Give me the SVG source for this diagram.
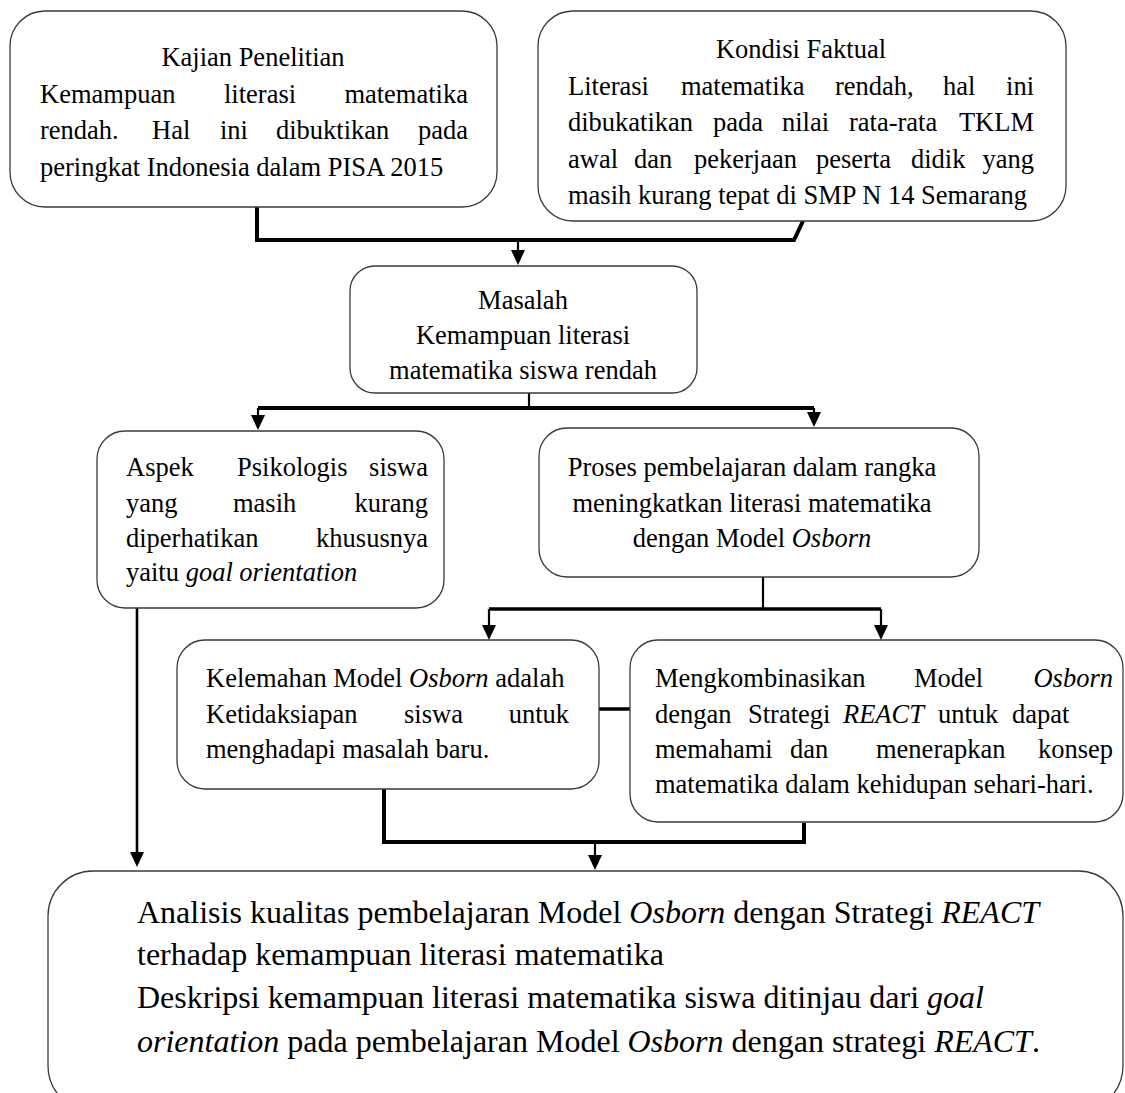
<svg xmlns="http://www.w3.org/2000/svg" width="1125" height="1093" viewBox="0 0 1125 1093">
<style>
.box{fill:#fff;stroke:#3a3a3a;stroke-width:1.3}
text{font-family:"Liberation Serif","Times New Roman",serif;font-size:26.5px;fill:#000}
.big{font-size:32px}
.c{text-anchor:middle}
.e{text-anchor:end}
.i{font-style:italic}
.thick{stroke:#000;stroke-width:4;fill:none}
.thin{stroke:#000;stroke-width:2.2;fill:none}
.ah{fill:#000}
</style>
<defs>
<path id="ah" d="M-7,-15 L7,-15 L0,0 Z"/>
</defs>
<rect width="1125" height="1093" fill="#fff"/>

<g id="connectors">
<path class="thick" d="M257,207 V240 H794 L803,221"/>
<path class="thin" d="M518,240 V252"/>
<use href="#ah" x="518" y="265" class="ah"/>
<path class="thin" d="M529,393 V408"/>
<path class="thick" d="M258,408 H814"/>
<path class="thin" d="M258,408 V417"/>
<path class="thin" d="M814,408 V414"/>
<use href="#ah" x="258" y="430" class="ah"/>
<use href="#ah" x="814" y="427" class="ah"/>
<path class="thin" d="M763,577 V609"/>
<path class="thick" style="stroke-width:3.5" d="M489,609 H881"/>
<path class="thin" d="M489,609 V627"/>
<path class="thin" d="M881,609 V627"/>
<use href="#ah" x="489" y="640" class="ah"/>
<use href="#ah" x="881" y="640" class="ah"/>
<path class="thin" style="stroke-width:2.6" d="M137,608 V855"/>
<use href="#ah" x="137" y="867" class="ah"/>
<path class="thick" style="stroke-width:3.5" d="M599,709 H630"/>
<path class="thick" d="M384,789 V842 H804 V823"/>
<path class="thin" d="M595,842 V857"/>
<use href="#ah" x="595" y="870" class="ah"/>
</g>

<g id="kajian">
<rect class="box" x="10" y="11" width="487" height="196" rx="35"/>
<text class="c" x="253" y="66">Kajian Penelitian</text>
<text x="40" y="103">Kemampuan</text>
<text x="224" y="103">literasi</text>
<text class="e" x="468" y="103">matematika</text>
<text x="40" y="139">rendah.</text>
<text x="152" y="139">Hal</text>
<text x="220" y="139">ini</text>
<text x="276" y="139">dibuktikan</text>
<text class="e" x="468" y="139">pada</text>
<text x="40" y="176">peringkat Indonesia dalam PISA 2015</text>
</g>

<g id="kondisi">
<rect class="box" x="538" y="11" width="528" height="210" rx="35"/>
<text class="c" x="801" y="58">Kondisi Faktual</text>
<text x="568" y="94.5">Literasi</text>
<text x="681" y="94.5">matematika</text>
<text x="835" y="94.5">rendah,</text>
<text x="943" y="94.5">hal</text>
<text class="e" x="1034" y="94.5">ini</text>
<text x="568" y="131">dibukatikan</text>
<text x="713" y="131">pada</text>
<text x="782" y="131">nilai</text>
<text x="849" y="131">rata-rata</text>
<text class="e" x="1034" y="131">TKLM</text>
<text x="568" y="167.5">awal</text>
<text x="634" y="167.5">dan</text>
<text x="694" y="167.5">pekerjaan</text>
<text x="816" y="167.5">peserta</text>
<text x="911" y="167.5">didik</text>
<text class="e" x="1034" y="167.5">yang</text>
<text x="568" y="204">masih kurang tepat di SMP N 14 Semarang</text>
</g>

<g id="masalah">
<rect class="box" x="350" y="266" width="347" height="127" rx="25"/>
<text class="c" x="523" y="309">Masalah</text>
<text class="c" x="523" y="344">Kemampuan literasi</text>
<text class="c" x="523" y="379">matematika siswa rendah</text>
</g>

<g id="aspek">
<rect class="box" x="97" y="431" width="347" height="177" rx="28"/>
<text x="126" y="476">Aspek</text>
<text x="237" y="476">Psikologis</text>
<text class="e" x="428" y="476">siswa</text>
<text x="126" y="511.5">yang</text>
<text x="233" y="511.5">masih</text>
<text class="e" x="428" y="511.5">kurang</text>
<text x="126" y="546.5">diperhatikan</text>
<text class="e" x="428" y="546.5">khususnya</text>
<text x="126" y="581">yaitu <tspan class="i">goal orientation</tspan></text>
</g>

<g id="proses">
<rect class="box" x="539" y="428" width="440" height="149" rx="28"/>
<text class="c" x="752" y="476">Proses pembelajaran dalam rangka</text>
<text class="c" x="752" y="511.5">meningkatkan literasi matematika</text>
<text class="c" x="752" y="546.5">dengan Model <tspan class="i">Osborn</tspan></text>
</g>

<g id="kelemahan">
<rect class="box" x="177" y="640" width="422" height="149" rx="28"/>
<text x="206" y="687">Kelemahan Model <tspan class="i">Osborn</tspan> adalah</text>
<text x="206" y="723">Ketidaksiapan</text>
<text x="404" y="723">siswa</text>
<text class="e" x="569" y="723">untuk</text>
<text x="206" y="758">menghadapi masalah baru.</text>
</g>

<g id="kombinasi">
<rect class="box" x="630" y="640" width="493" height="182" rx="28"/>
<text x="655" y="687">Mengkombinasikan</text>
<text x="914" y="687">Model</text>
<text class="e i" x="1113" y="687">Osborn</text>
<text x="655" y="723">dengan</text>
<text x="748" y="723">Strategi</text>
<text class="i" x="843" y="723">REACT</text>
<text x="938" y="723">untuk</text>
<text x="1012" y="723">dapat</text>
<text x="655" y="758">memahami</text>
<text x="790" y="758">dan</text>
<text x="876" y="758">menerapkan</text>
<text class="e" x="1113" y="758">konsep</text>
<text x="655" y="793">matematika dalam kehidupan sehari-hari.</text>
</g>

<g id="hasil">
<rect class="box" x="48" y="871" width="1075" height="240" rx="45"/>
<text class="big" x="137" y="923">Analisis kualitas pembelajaran Model <tspan class="i">Osborn</tspan> dengan Strategi <tspan class="i">REACT</tspan></text>
<text class="big" x="137" y="965">terhadap kemampuan literasi matematika</text>
<text class="big" x="137" y="1008">Deskripsi kemampuan literasi matematika siswa ditinjau dari <tspan class="i">goal</tspan></text>
<text class="big" x="137" y="1052"><tspan class="i">orientation</tspan> pada pembelajaran Model <tspan class="i">Osborn</tspan> dengan strategi <tspan class="i">REACT</tspan>.</text>
</g>
</svg>
